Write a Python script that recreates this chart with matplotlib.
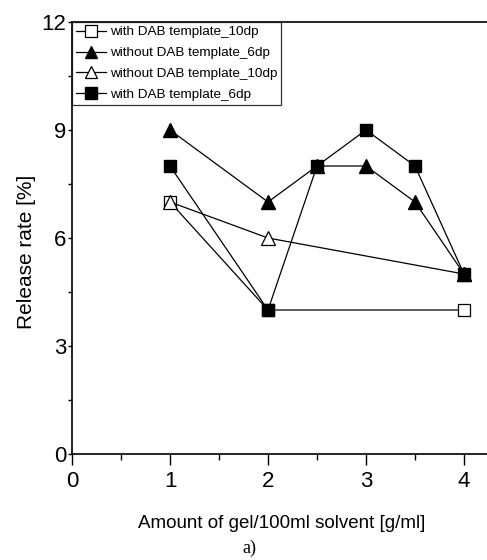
import matplotlib
matplotlib.use("Agg")
import matplotlib.pyplot as plt

# amount of gel (g per 100 ml solvent) vs. release rate (%)
x_with_10 = [1, 2, 4]
y_with_10 = [7, 4, 4]
x_without_6 = [1, 2, 2.5, 3, 3.5, 4]
y_without_6 = [9, 7, 8, 8, 7, 5]
x_without_10 = [1, 2, 4]
y_without_10 = [7, 6, 5]
x_with_6 = [1, 2, 2.5, 3, 3.5, 4]
y_with_6 = [8, 4, 8, 9, 8, 5]

labels = ["with DAB template_10dp", "without DAB template_6dp",
          "without DAB template_10dp", "with DAB template_6dp"]

font = "Liberation Sans"

fig = plt.figure(figsize=(4.87, 5.6), dpi=100)
ax = fig.add_axes([72 / 487, 106 / 560, 441 / 487, 432 / 560])

ms = 9
ax.plot(x_with_10, y_with_10, color="black", lw=0.9, marker="s", ms=ms,
        mfc="white", mec="black", mew=0.9, label=labels[0])
ax.plot(x_without_6, y_without_6, color="black", lw=0.9, marker="^", ms=ms + 1,
        mfc="black", mec="black", label=labels[1])
ax.plot(x_without_10, y_without_10, color="black", lw=0.9, marker="^", ms=ms + 1,
        mfc="white", mec="black", mew=0.9, label=labels[2])
ax.plot(x_with_6, y_with_6, color="black", lw=0.9, marker="s", ms=ms,
        mfc="black", mec="black", label=labels[3])

ax.set_xlim(0, 4.5)
ax.set_ylim(0, 12)
ax.set_xticks([0, 1, 2, 3, 4])
ax.set_xticks([0.5, 1.5, 2.5, 3.5], minor=True)
ax.set_yticks([0, 3, 6, 9, 12])
ax.set_yticks([1.5, 4.5, 7.5, 10.5], minor=True)
ax.tick_params(which="major", direction="out", length=8, width=1, labelsize=16, pad=4)
ax.tick_params(which="minor", direction="out", length=4, width=1)
ax.tick_params(axis="y", which="both", length=3, pad=1)
for lab in ax.get_xticklabels() + ax.get_yticklabels():
    lab.set_family(font)
for s in ax.spines.values():
    s.set_linewidth(1.2)

ax.set_xlabel("Amount of gel/100ml solvent [g/ml]", family=font, fontsize=13.5,
              va="top")
ax.xaxis.set_label_coords(0.476, -0.141)
ax.set_ylabel("Release rate [%]", family=font, fontsize=15, va="bottom")
ax.yaxis.set_label_coords(-0.082, 0.468)

leg = ax.legend(loc="upper left", bbox_to_anchor=(0, 1), borderaxespad=0,
                prop={"family": font, "size": 9.7}, frameon=True, fancybox=False,
                edgecolor="black", handlelength=2.2, handletextpad=0.3,
                labelspacing=0.62, borderpad=0.3, markerscale=0.9)
leg.get_frame().set_linewidth(0.9)

fig.text(0.513, 0.006, "a)", family="Liberation Serif", fontsize=13, ha="center", va="bottom")

fig.savefig("out.png", dpi=100)
